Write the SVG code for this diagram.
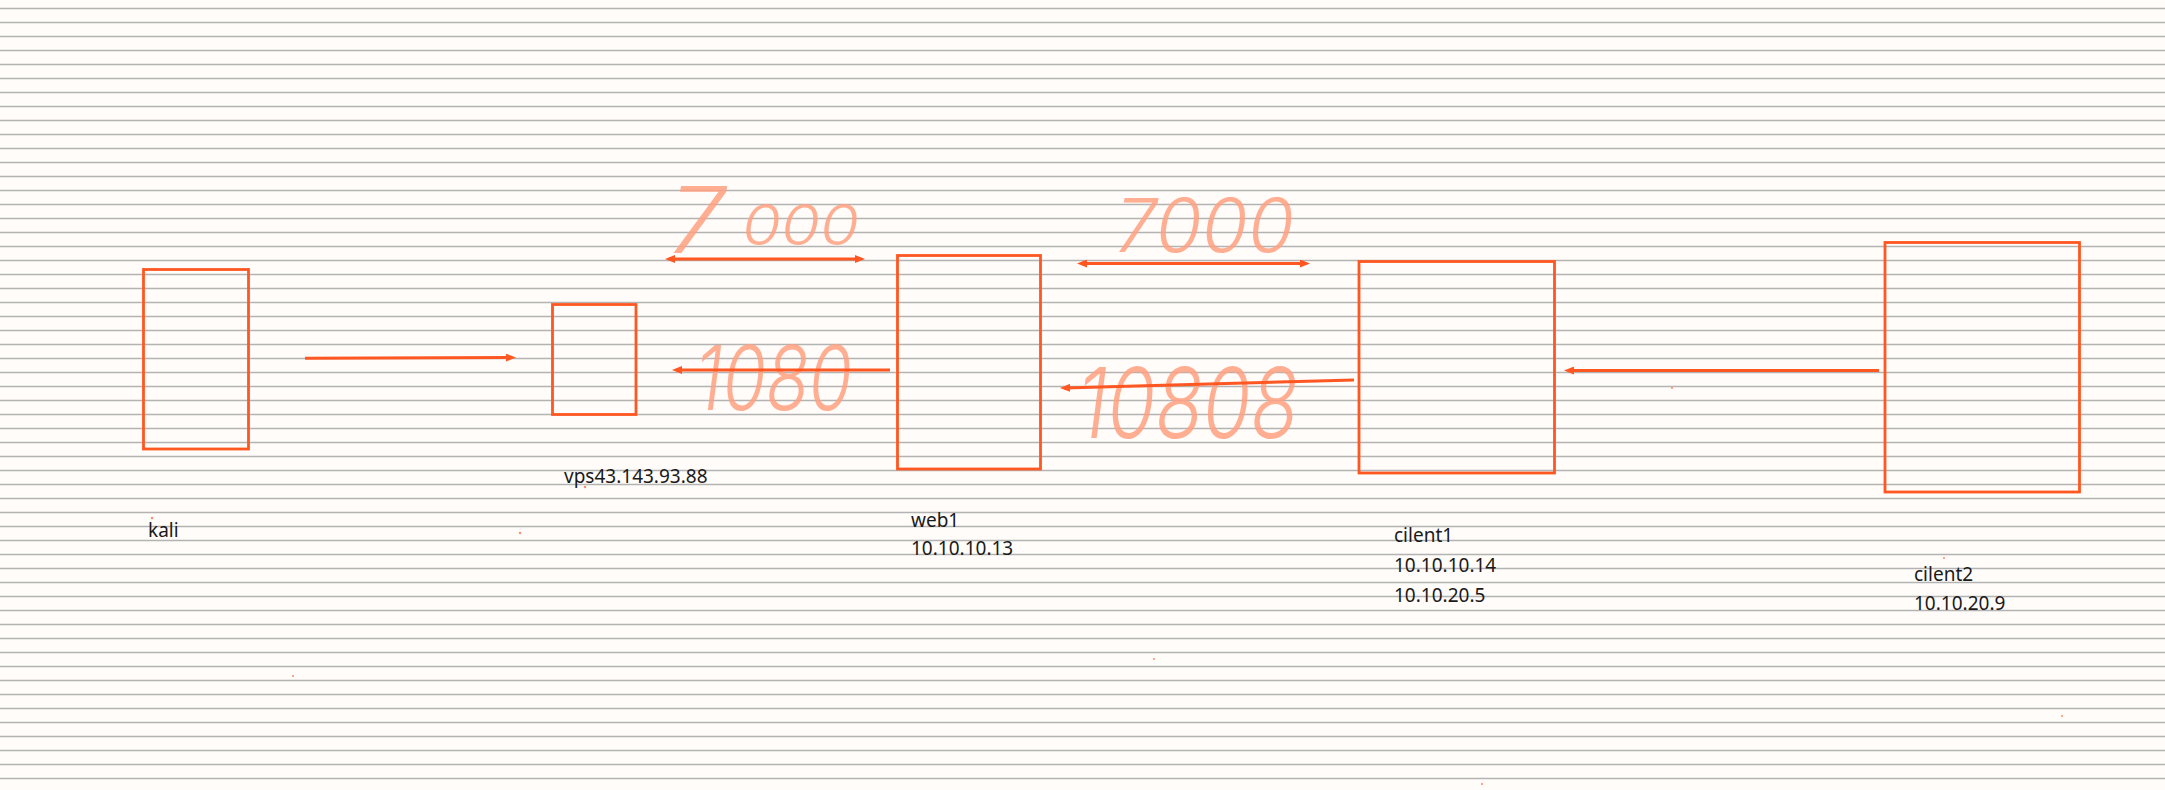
<svg xmlns="http://www.w3.org/2000/svg" width="2165" height="790" viewBox="0 0 2165 790">
<style>
.box{fill:none;stroke:#ff5722;stroke-width:2.8}
.conn{fill:none;stroke:#ff5722;stroke-width:3}
.lbl{font-family:"Noto Sans","Liberation Sans",sans-serif;font-size:19px;fill:#1a1a1a}
.hw{font-family:"Inter","Open Sans","Noto Sans",sans-serif;font-weight:300;font-style:italic;fill:#ffa080;fill-opacity:0.85}
.speck{fill:#ff8a65}
</style>
<defs>
<marker id="ah" viewBox="0 0 10 8" markerWidth="10" markerHeight="8" refX="6" refY="4" orient="auto-start-reverse" markerUnits="userSpaceOnUse">
<path d="M0,0 L10,4 L0,8 z" fill="#ff5722"/>
</marker>
</defs>
<rect width="2165" height="790" fill="#fffcf9"/>
<path stroke="#b3b3b3" stroke-width="1.3" fill="none" d="M0 8.5H2165M0 22.5H2165M0 36.5H2165M0 50.5H2165M0 64.5H2165M0 78.5H2165M0 92.5H2165M0 106.5H2165M0 120.5H2165M0 134.5H2165M0 148.5H2165M0 162.5H2165M0 176.5H2165M0 190.5H2165M0 204.5H2165M0 218.5H2165M0 232.5H2165M0 246.5H2165M0 260.5H2165M0 274.5H2165M0 288.5H2165M0 302.5H2165M0 316.5H2165M0 330.5H2165M0 344.5H2165M0 358.5H2165M0 372.5H2165M0 386.5H2165M0 400.5H2165M0 414.5H2165M0 428.5H2165M0 442.5H2165M0 456.5H2165M0 470.5H2165M0 484.5H2165M0 498.5H2165M0 512.5H2165M0 526.5H2165M0 540.5H2165M0 554.5H2165M0 568.5H2165M0 582.5H2165M0 596.5H2165M0 610.5H2165M0 624.5H2165M0 638.5H2165M0 652.5H2165M0 666.5H2165M0 680.5H2165M0 694.5H2165M0 708.5H2165M0 722.5H2165M0 736.5H2165M0 750.5H2165M0 764.5H2165M0 778.5H2165"/>

<g id="handwriting">
<text class="hw" x="668" y="253" font-size="92" textLength="57" lengthAdjust="spacingAndGlyphs">7</text>
<text class="hw" x="742" y="245" font-size="56" textLength="117" lengthAdjust="spacingAndGlyphs">000</text>
<text class="hw" x="1115" y="252" font-size="74" textLength="179" lengthAdjust="spacingAndGlyphs">7000</text>
<text class="hw" x="695" y="410" font-size="90" textLength="157" lengthAdjust="spacingAndGlyphs">1080</text>
<text class="hw" x="1077" y="438" font-size="98" textLength="221" lengthAdjust="spacingAndGlyphs">10808</text>
</g>

<g id="connectors">
<path class="conn" d="M305 358.3 L512 357.6" marker-end="url(#ah)"/>
<path class="conn" d="M890 370 L676 370" marker-end="url(#ah)"/>
<path class="conn" d="M669 259 L861 259" marker-start="url(#ah)" marker-end="url(#ah)"/>
<path class="conn" d="M1081 263.5 L1306 263.5" marker-start="url(#ah)" marker-end="url(#ah)"/>
<path class="conn" d="M1354 380 L1064 388" marker-end="url(#ah)"/>
<path class="conn" d="M1879 370.5 L1568 370.5" marker-end="url(#ah)"/>
</g>

<g id="kali">
<rect class="box" x="143.5" y="269.5" width="105" height="179.5"/>
<text class="lbl" x="148" y="537">kali</text>
</g>
<g id="vps">
<rect class="box" x="552.5" y="304.5" width="83.5" height="110"/>
<text class="lbl" x="564" y="483">vps43.143.93.88</text>
</g>
<g id="web1">
<rect class="box" x="897.5" y="255.5" width="143" height="213.5"/>
<text class="lbl" x="911" y="527">web1</text>
<text class="lbl" x="911" y="555">10.10.10.13</text>
</g>
<g id="cilent1">
<rect class="box" x="1359" y="261.5" width="195.5" height="211.5"/>
<text class="lbl" x="1394" y="542">cilent1</text>
<text class="lbl" x="1394" y="572">10.10.10.14</text>
<text class="lbl" x="1394" y="602">10.10.20.5</text>
</g>
<g id="cilent2">
<rect class="box" x="1885" y="242.5" width="194.5" height="249.5"/>
<text class="lbl" x="1914" y="581">cilent2</text>
<text class="lbl" x="1914" y="610">10.10.20.9</text>
</g>

<g id="specks">
<circle class="speck" cx="152" cy="518" r="1.2"/>
<circle class="speck" cx="520" cy="533" r="1.2"/>
<circle class="speck" cx="585" cy="487" r="1.2"/>
<circle class="speck" cx="1154" cy="659" r="1"/>
<circle class="speck" cx="293" cy="676" r="1"/>
<circle class="speck" cx="2062" cy="716" r="1"/>
<circle class="speck" cx="1482" cy="784" r="1"/>
<circle class="speck" cx="1672" cy="388" r="1"/>
<circle class="speck" cx="1944" cy="558" r="1"/>
</g>
</svg>
